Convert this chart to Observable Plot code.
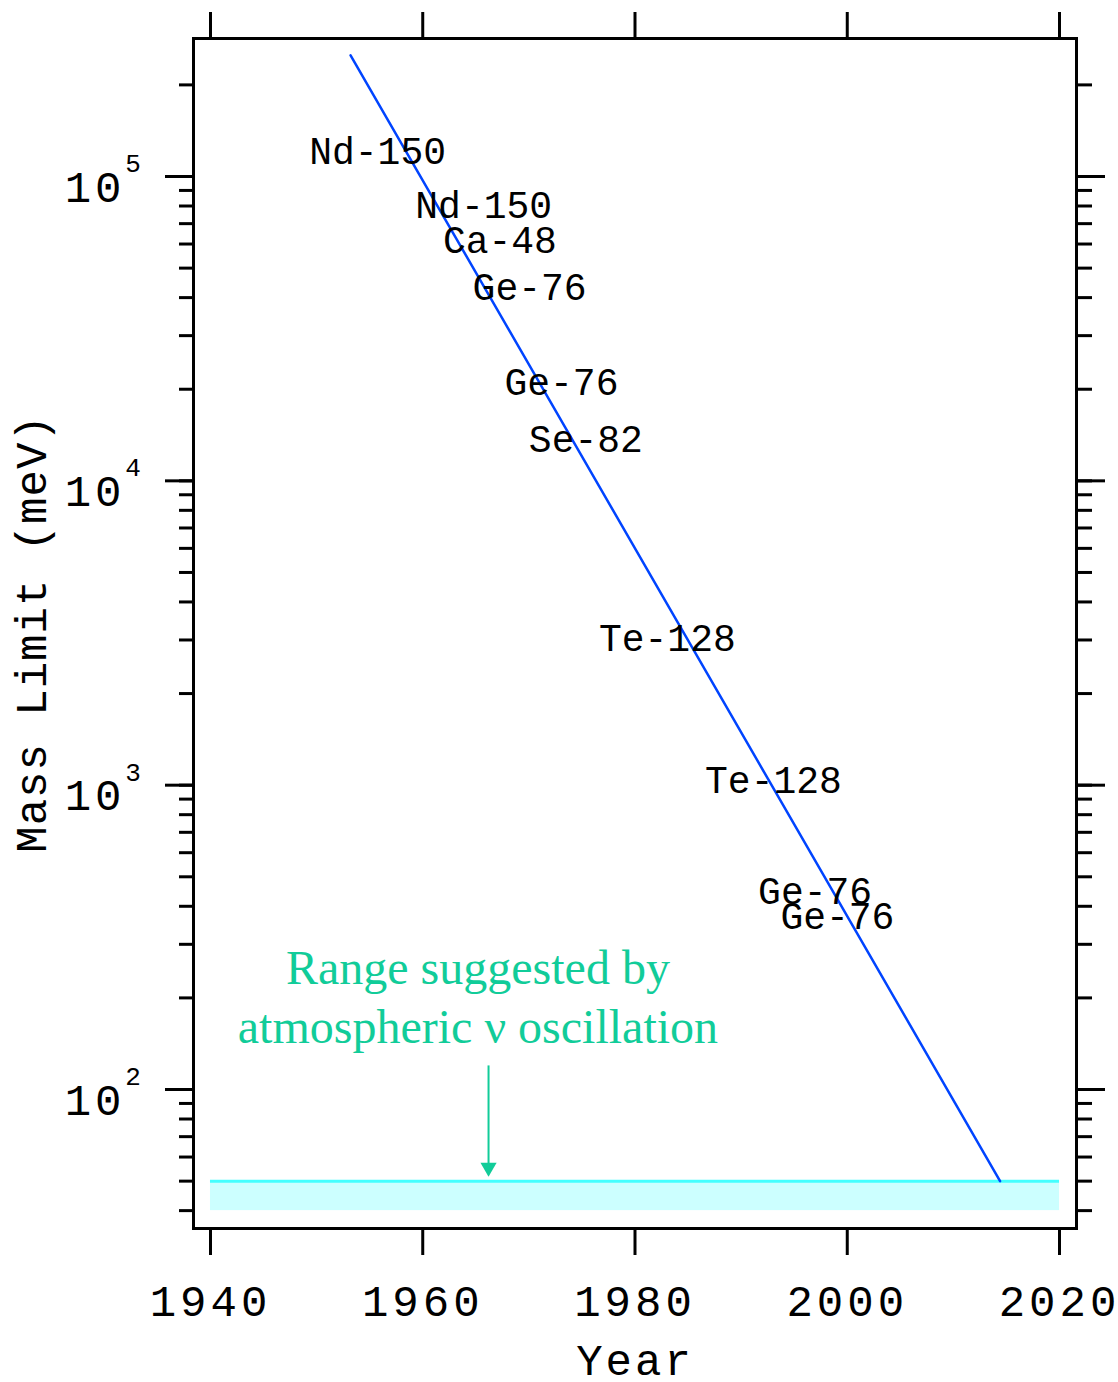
<!DOCTYPE html>
<html><head><meta charset="utf-8">
<script src="https://cdn.jsdelivr.net/npm/d3@7"></script>
<script src="https://cdn.jsdelivr.net/npm/@observablehq/plot@0.6"></script>
<style>
body{margin:0;background:#fff}
g[aria-label="x-axis tick label"] text { letter-spacing: 4px; }
.ylab10 text { letter-spacing: 4px; }
.ytitle text { letter-spacing: 1px; }
.xtitle text { letter-spacing: 3px; }
</style>
</head><body><div id="chart"></div>
<script>
// ---- data ----
const isotopes    = ["Nd-150","Nd-150","Ca-48","Ge-76","Ge-76","Se-82","Te-128","Te-128","Ge-76","Ge-76"];
const labelYears  = [1949.3, 1959.3, 1961.9, 1964.7, 1967.7, 1970.0, 1976.6, 1986.6, 1991.6, 1993.7];
const labelLimits = [120800, 80300, 61600, 43200, 21000, 13600, 3030, 1030, 447, 370];
const trendYears  = [1953.2, 2014.4];
const trendLimits = [250000, 50];
const bandYears   = [1940, 2020];
const bandLimits  = [40, 50];
const arrowYear   = 1966.2;
const arrowLimits = [120, 57];
const noteLines   = ["Range suggested by", "atmospheric \u03bd oscillation"];
const noteYear    = 1965.2;
const noteLimits  = [250, 160];
const xTicks      = [1940, 1960, 1980, 2000, 2020];
const yMajorTicks = [1e2, 1e3, 1e4, 1e5];
const yMantissa   = ["10", "10", "10", "10"];
const yExponents  = ["2", "3", "4", "5"];

// ---- tables ----
const labels = isotopes.map((name, i) => ({name, year: labelYears[i], limit: labelLimits[i]}));
const trend  = trendYears.map((year, i) => ({year, limit: trendLimits[i]}));
const band   = [{x1: bandYears[0], x2: bandYears[1], y1: bandLimits[0], y2: bandLimits[1]}];
const notes  = noteLines.map((t, i) => ({t, year: noteYear, limit: noteLimits[i]}));
const ylabs  = yMajorTicks.map((v, i) => ({v, m: yMantissa[i], e: yExponents[i]}));

const MONO = "'Liberation Mono', 'DejaVu Sans Mono', monospace";
const SERIF = "'Liberation Serif', 'DejaVu Serif', serif";
const GREEN = "#11cc99";

const chart = Plot.plot({
  width: 1118, height: 1382,
  marginLeft: 193, marginRight: 42, marginTop: 38, marginBottom: 154,
  style: {fontFamily: MONO, fontSize: "44px", background: "#fff"},
  x: {type: "linear", domain: [1938.4, 2021.6]},
  y: {type: "log", domain: [34.94, 284100]},
  marks: [
    Plot.rect(band, {x1: "x1", x2: "x2", y1: "y1", y2: "y2", fill: "#ccffff"}),
    Plot.ruleY([bandLimits[1]], {x1: bandYears[0], x2: bandYears[1], stroke: "#44ffff", strokeWidth: 3}),
    Plot.line(trend, {x: "year", y: "limit", stroke: "#0044ff", strokeWidth: 2.5}),
    Plot.link([0], {x1: () => arrowYear, x2: () => arrowYear, y1: () => arrowLimits[0], y2: () => arrowLimits[1], stroke: GREEN, strokeWidth: 2}),
    Plot.dot([0], {x: () => arrowYear, y: () => arrowLimits[1] - 1.5, symbol: "triangle", rotate: 180, r: 6, fill: GREEN, stroke: "none"}),
    Plot.text(labels, {x: "year", y: "limit", text: "name", textAnchor: "start", lineAnchor: "middle", fontFamily: MONO, fontSize: 38, fill: "#000"}),
    Plot.text(notes, {x: "year", y: "limit", text: "t", textAnchor: "middle", lineAnchor: "middle", fontFamily: SERIF, fontSize: 48, fill: GREEN}),
    Plot.frame({stroke: "#000", strokeWidth: 3}),
    // x axes
    Plot.axisX({anchor: "bottom", ticks: xTicks, tickSize: 27, tickPadding: 29, strokeWidth: 3, tickFormat: d => String(d), fontSize: 44, fontFamily: MONO, label: null}),
    Plot.axisX({anchor: "top", ticks: xTicks, tickSize: 27, strokeWidth: 3, tickFormat: () => "", label: null}),
    // y axes: minor ticks (log default) + major
    Plot.axisY({anchor: "left", tickSize: 14, strokeWidth: 3, tickFormat: () => "", label: null}),
    Plot.axisY({anchor: "right", tickSize: 15, strokeWidth: 3, tickFormat: () => "", label: null}),
    Plot.axisY({anchor: "left", ticks: yMajorTicks, tickSize: 28, strokeWidth: 3, tickFormat: () => "", label: null}),
    Plot.axisY({anchor: "right", ticks: yMajorTicks, tickSize: 28, strokeWidth: 3, tickFormat: () => "", label: null}),
    Plot.text(ylabs, {y: "v", text: "m", frameAnchor: "left", dx: -68, dy: 11, textAnchor: "end", lineAnchor: "middle", fontSize: 44, fontFamily: MONO, className: "ylab10"}),
    Plot.text(ylabs, {y: "v", text: "e", frameAnchor: "left", dx: -60.5, dy: -13, textAnchor: "middle", lineAnchor: "middle", fontSize: 26, fontFamily: MONO}),
    // axis titles
    Plot.text(["Year"], {text: d => d, frameAnchor: "bottom", dy: 132, textAnchor: "middle", lineAnchor: "middle", fontSize: 44, fontFamily: MONO, className: "xtitle"}),
    Plot.text(["Mass Limit (meV)"], {text: d => d, frameAnchor: "left", dx: -162, rotate: -90, textAnchor: "middle", lineAnchor: "middle", fontSize: 44, fontFamily: MONO, className: "ytitle"})
  ]
});
document.getElementById("chart").append(chart);
</script>
</body></html>
